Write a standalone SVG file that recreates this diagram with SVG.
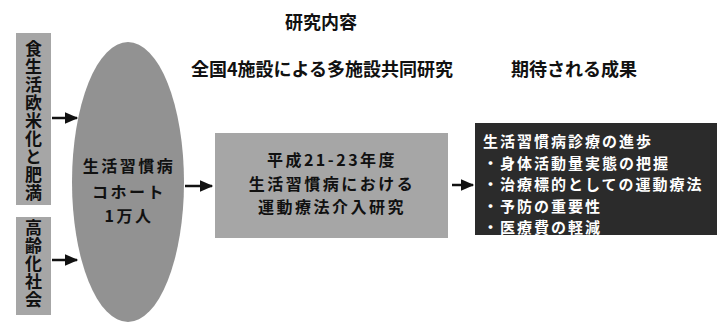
<svg xmlns="http://www.w3.org/2000/svg" width="718" height="327" viewBox="0 0 718 327">
<style>
text{font-family:"Noto Sans CJK JP","Noto Sans CJK SC",sans-serif;font-weight:bold;fill:#111;}
.t{font-size:18px;}
.g{font-size:16px;fill:#111;letter-spacing:2.5px;}
.w{font-size:15px;fill:#fff;letter-spacing:2px;}
.v{font-size:17px;writing-mode:vertical-rl;text-anchor:middle;}
.box{fill:#a6a6a6;}
.conn{stroke:#111;stroke-width:2.5;fill:none;marker-end:url(#ah);}
</style>
<defs>
<marker id="ah" markerWidth="6" markerHeight="6" refX="5" refY="3" orient="auto" markerUnits="strokeWidth">
<path d="M0,0.6 L5.5,3 L0,5.4 z" fill="#111"/>
</marker>
</defs>
<rect width="718" height="327" fill="#fff"/>
<g id="titles">
<text class="t" x="321" y="29" text-anchor="middle">研究内容</text>
<text class="t" x="322" y="76" text-anchor="middle" font-size="19">全国4施設による多施設共同研究</text>
<text class="t" x="574" y="76" text-anchor="middle">期待される成果</text>
</g>
<g id="node-diet">
<rect class="box" x="16" y="33" width="35" height="172"/>
<text class="v" x="33.5" y="121" letter-spacing="1">食生活欧米化と肥満</text>
</g>
<g id="node-aging">
<rect class="box" x="16" y="217" width="35" height="98"/>
<text class="v" x="33.5" y="264" letter-spacing="1">高齢化社会</text>
</g>
<g id="node-cohort">
<ellipse cx="128" cy="182" rx="56" ry="140" fill="#929292"/>
<text class="g" x="129" y="172" text-anchor="middle">生活習慣病</text>
<text class="g" x="129" y="198" text-anchor="middle">コホート</text>
<text class="g" x="129" y="222" text-anchor="middle">1万人</text>
</g>
<g id="node-study">
<rect class="box" x="215" y="133" width="233" height="105"/>
<text class="g" x="332" y="166" text-anchor="middle">平成21-23年度</text>
<text class="g" x="332" y="189.5" text-anchor="middle">生活習慣病における</text>
<text class="g" x="332" y="213" text-anchor="middle">運動療法介入研究</text>
</g>
<g id="node-result">
<rect x="475" y="123" width="242" height="112" fill="#2b2b2b"/>
<text class="w" x="483" y="147">生活習慣病診療の進歩</text>
<text class="w" x="483" y="168.5">・身体活動量実態の把握</text>
<text class="w" x="483" y="190">・治療標的としての運動療法</text>
<text class="w" x="483" y="211.5">・予防の重要性</text>
<text class="w" x="483" y="233">・医療費の軽減</text>
</g>
<g id="connectors">
<line class="conn" x1="52" y1="118" x2="77" y2="118"/>
<line class="conn" x1="52" y1="260" x2="77" y2="260"/>
<line class="conn" x1="185" y1="186" x2="212" y2="186"/>
<line class="conn" x1="452" y1="185" x2="473" y2="185"/>
</g>
</svg>
